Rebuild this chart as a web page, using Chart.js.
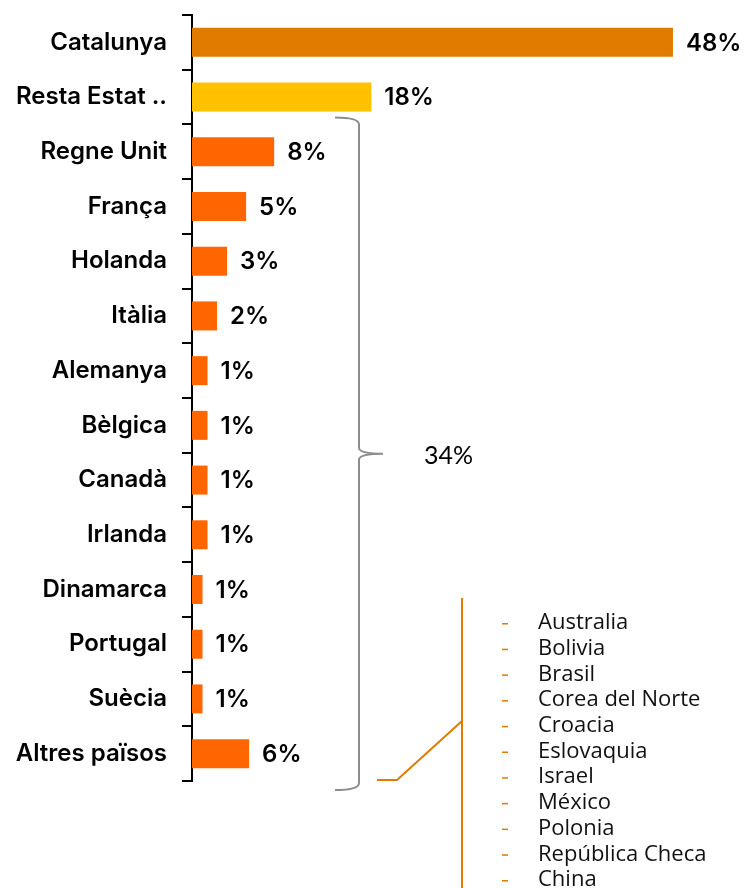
<!DOCTYPE html>
<html><head><meta charset="utf-8">
<script src="https://cdn.jsdelivr.net/npm/chart.js@4"></script>
<style>html,body{margin:0;padding:0;background:#fff;} #wrap{width:744px;height:888px;position:relative}</style>
</head><body><div id="wrap"><canvas id="c" width="744" height="888"></canvas></div>
<script>
const categories = ['Catalunya','Resta Estat ..','Regne Unit','França','Holanda','Itàlia','Alemanya','Bèlgica','Canadà','Irlanda','Dinamarca','Portugal','Suècia','Altres països'];
const shares = [48, 17.9, 8.2, 5.4, 3.5, 2.5, 1.55, 1.55, 1.55, 1.55, 1.05, 1.05, 1.05, 5.7];
const shareLabels = ['48%','18%','8%','5%','3%','2%','1%','1%','1%','1%','1%','1%','1%','6%'];
const groupLabel = '34%';
const otherCountries = ['Australia','Bolivia','Brasil','Corea del Norte','Croacia','Eslovaquia','Israel','México','Polonia','República Checa','China'];

const VALUE_FONT = '600 24px Inter';
const barColors = categories.map((c,i)=> i===0 ? '#E07B00' : (i===1 ? '#FFC000' : '#FF6600'));
const ORANGE = '#E07B00';

const overlay = {
  id:'overlay',
  afterDatasetsDraw(chart){
    const ctx = chart.ctx;
    const meta = chart.getDatasetMeta(0);
    ctx.save();
    ctx.font = VALUE_FONT; ctx.fillStyle = '#000'; ctx.textBaseline = 'middle'; ctx.textAlign = 'left';
    meta.data.forEach((bar,i)=>{ ctx.fillText(shareLabels[i], bar.x + 13, bar.y + 1); });
    ctx.restore();
  },
  afterDraw(chart){
    const ctx = chart.ctx, y = chart.scales.y;
    const band = y.getPixelForValue(1) - y.getPixelForValue(0);
    const top = y.getPixelForValue(2) - band/2 - 7;
    const bot = y.getPixelForValue(categories.length-1) + band/2 + 9;
    const mid = (top + bot)/2;
    const bx = 359, lx = 335, tx = 383;
    ctx.save();
    ctx.strokeStyle = '#8c8c8c'; ctx.lineWidth = 2;
    ctx.beginPath();
    ctx.moveTo(lx, top);
    ctx.quadraticCurveTo(bx, top, bx, top + 7);
    ctx.lineTo(bx, mid - 6);
    ctx.quadraticCurveTo(bx, mid, tx, mid);
    ctx.moveTo(tx, mid);
    ctx.quadraticCurveTo(bx, mid, bx, mid + 6);
    ctx.lineTo(bx, bot - 7);
    ctx.quadraticCurveTo(bx, bot, lx, bot);
    ctx.stroke();
    ctx.fillStyle = '#000'; ctx.font = '400 25px Lato'; ctx.textBaseline = 'middle'; ctx.textAlign = 'left';
    ctx.fillText(groupLabel, 424, mid + 2);

    // connector to list
    ctx.strokeStyle = ORANGE; ctx.lineWidth = 2;
    ctx.beginPath();
    ctx.moveTo(377, 780); ctx.lineTo(397, 780); ctx.lineTo(462, 721);
    ctx.moveTo(462, 598); ctx.lineTo(462, 888);
    ctx.stroke();

    // list
    ctx.font = '400 22px "Open Sans"'; ctx.textBaseline = 'middle';
    otherCountries.forEach((name,i)=>{
      const yy = 623 + i*25.7;
      ctx.fillStyle = ORANGE; ctx.fillRect(502, yy, 6, 1.5);
      ctx.fillStyle = '#111'; ctx.fillText(name, 538, yy);
    });
    ctx.restore();
  }
};

new Chart(document.getElementById('c'), {
  type:'bar',
  data:{ labels: categories, datasets:[{ data: shares, backgroundColor: barColors, borderWidth:0, barPercentage:0.53, categoryPercentage:1 }]},
  options:{
    indexAxis:'y', responsive:false, animation:false, devicePixelRatio:1,
    layout:{ padding:{ top:15, bottom:107, left:0, right:51 } },
    plugins:{ legend:{display:false}, tooltip:{enabled:false} },
    scales:{
      x:{ display:false, min:0, max:50 },
      y:{
        afterFit(s){ s.width = 192; s.paddingTop = 0; s.paddingBottom = 0; },
        grid:{ offset:true, drawOnChartArea:false, drawTicks:true, tickLength:10, color:'#000', lineWidth:2 },
        border:{ color:'#000', width:2 },
        ticks:{ color:'#000', font:{ family:'Inter', size:24, weight:'600' }, padding:15 }
      }
    }
  },
  plugins:[overlay]
});
</script></body></html>
